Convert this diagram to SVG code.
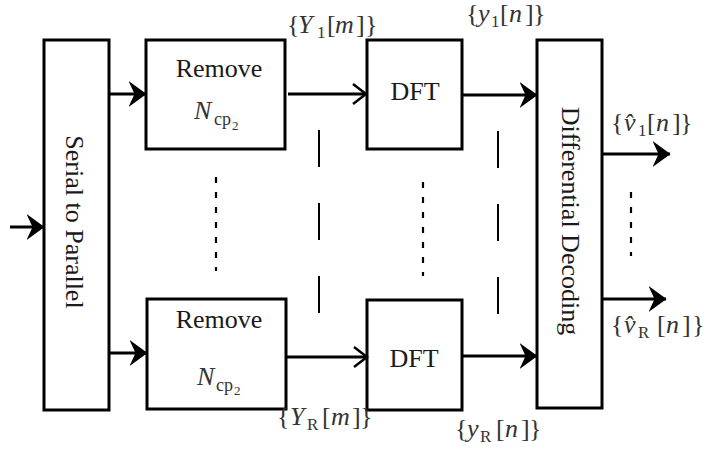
<svg xmlns="http://www.w3.org/2000/svg" width="720" height="451" viewBox="0 0 720 451">
<defs>
<style>
.box{fill:#fff;stroke:#000;stroke-width:3}
.lbl{font-family:"Liberation Serif","Times New Roman",serif;font-size:26px;fill:#1a1a1a}
.math{font-family:"Liberation Serif","Times New Roman",serif;font-size:26px;fill:#333}
.it{font-style:italic}
.sub{font-size:17px}
.ln{stroke:#000;stroke-width:3;fill:none}
.dot{stroke:#000;stroke-width:2.2;stroke-dasharray:6 9;fill:none}
.dash{stroke:#000;stroke-width:2;stroke-dasharray:37 36;fill:none}
</style>
<marker id="ah" viewBox="0 0 18 26" refX="17.5" refY="13" markerWidth="18" markerHeight="26" markerUnits="userSpaceOnUse" orient="auto">
<path d="M0,0 L18,13 L0,26 L6,13 Z" fill="#000"/>
</marker>
<marker id="ch" viewBox="-2 -2 17 24" refX="13" refY="10" markerWidth="17" markerHeight="24" markerUnits="userSpaceOnUse" orient="auto">
<path d="M0,0 L13,10 L0,20" fill="none" stroke="#000" stroke-width="2.5"/>
</marker>
</defs>
<rect width="720" height="451" fill="#fff"/>

<g id="s2p">
<rect class="box" x="44" y="40" width="65" height="370"/>
<text class="lbl" font-size="27" text-anchor="middle" transform="translate(66,222) rotate(90)">Serial to Parallel</text>
</g>

<g id="remove1">
<rect class="box" x="146" y="40" width="139" height="109"/>
<text class="lbl" x="219" y="77" text-anchor="middle">Remove</text>
<text class="math"><tspan class="it" x="194" y="119">N</tspan><tspan font-size="18" x="214" y="125">cp</tspan><tspan font-size="13" x="232" y="130">2</tspan></text>
</g>

<g id="remove2">
<rect class="box" x="147" y="299" width="139" height="110"/>
<text class="lbl" x="219" y="328" text-anchor="middle">Remove</text>
<text class="math"><tspan class="it" x="197" y="385">N</tspan><tspan font-size="18" x="216" y="391">cp</tspan><tspan font-size="13" x="234" y="395">2</tspan></text>
</g>

<g id="dft1">
<rect class="box" x="367" y="40" width="95" height="109"/>
<text class="lbl" x="415" y="100" text-anchor="middle">DFT</text>
</g>

<g id="dft2">
<rect class="box" x="367" y="300" width="95" height="110"/>
<text class="lbl" x="414" y="367" text-anchor="middle">DFT</text>
</g>

<g id="diffdec">
<rect class="box" x="537" y="40" width="65" height="368"/>
<text class="lbl" font-size="26.5" text-anchor="middle" transform="translate(562,221) rotate(90)">Differential Decoding</text>
</g>

<g id="connectors">
<path class="ln" d="M10,227 L44,227" marker-end="url(#ah)"/>
<path class="ln" d="M109,94 L146,94" marker-end="url(#ah)"/>
<path class="ln" d="M288,94 L366,94" marker-end="url(#ch)"/>
<path class="ln" d="M462,95 L537,95" marker-end="url(#ah)"/>
<path class="ln" d="M602,154 L670,154" marker-end="url(#ah)"/>
<path class="ln" d="M109,353 L147,353" marker-end="url(#ah)"/>
<path class="ln" d="M287,357 L367,357" marker-end="url(#ch)"/>
<path class="ln" d="M462,356 L537,356" marker-end="url(#ah)"/>
<path class="ln" d="M602,299 L666,299" marker-end="url(#ah)"/>
<path class="dot" d="M216,177 L216,271"/>
<path class="dot" d="M423,182 L423,276"/>
<path class="dot" d="M631,192 L631,256"/>
<path class="dash" d="M319,130 L319,313"/>
<path class="dash" d="M498,131 L498,314"/>
</g>

<g id="labels">
<text class="math"><tspan x="287" y="33">{</tspan><tspan class="it" x="298" y="33">Y</tspan><tspan class="sub" x="317" y="38">1</tspan><tspan x="327" y="33">[</tspan><tspan class="it" x="335" y="33">m</tspan><tspan x="356" y="33">]</tspan><tspan x="365" y="33">}</tspan></text>
<text class="math"><tspan x="466" y="22">{</tspan><tspan class="it" x="478" y="22">y</tspan><tspan class="sub" x="491" y="27">1</tspan><tspan x="500" y="22">[</tspan><tspan class="it" x="509" y="22">n</tspan><tspan x="525" y="22">]</tspan><tspan x="533" y="22">}</tspan></text>
<text class="math"><tspan x="611" y="131">{</tspan><tspan class="it" x="624" y="131">v̂</tspan><tspan class="sub" x="638" y="136">1</tspan><tspan x="647" y="131">[</tspan><tspan class="it" x="656" y="131">n</tspan><tspan x="672" y="131">]</tspan><tspan x="680" y="131">}</tspan></text>
<text class="math"><tspan x="611" y="333">{</tspan><tspan class="it" x="624" y="333">v̂</tspan><tspan class="sub" x="638" y="338">R</tspan><tspan x="657" y="333">[</tspan><tspan class="it" x="666" y="333">n</tspan><tspan x="682" y="333">]</tspan><tspan x="692" y="333">}</tspan></text>
<text class="math"><tspan x="277" y="425">{</tspan><tspan class="it" x="290" y="425">Y</tspan><tspan class="sub" x="307" y="430">R</tspan><tspan x="322" y="425">[</tspan><tspan class="it" x="331" y="425">m</tspan><tspan x="352" y="425">]</tspan><tspan x="360" y="425">}</tspan></text>
<text class="math"><tspan x="455" y="437">{</tspan><tspan class="it" x="467" y="437">y</tspan><tspan class="sub" x="480" y="442">R</tspan><tspan x="496" y="437">[</tspan><tspan class="it" x="505" y="437">n</tspan><tspan x="521" y="437">]</tspan><tspan x="529" y="437">}</tspan></text>
</g>
</svg>
